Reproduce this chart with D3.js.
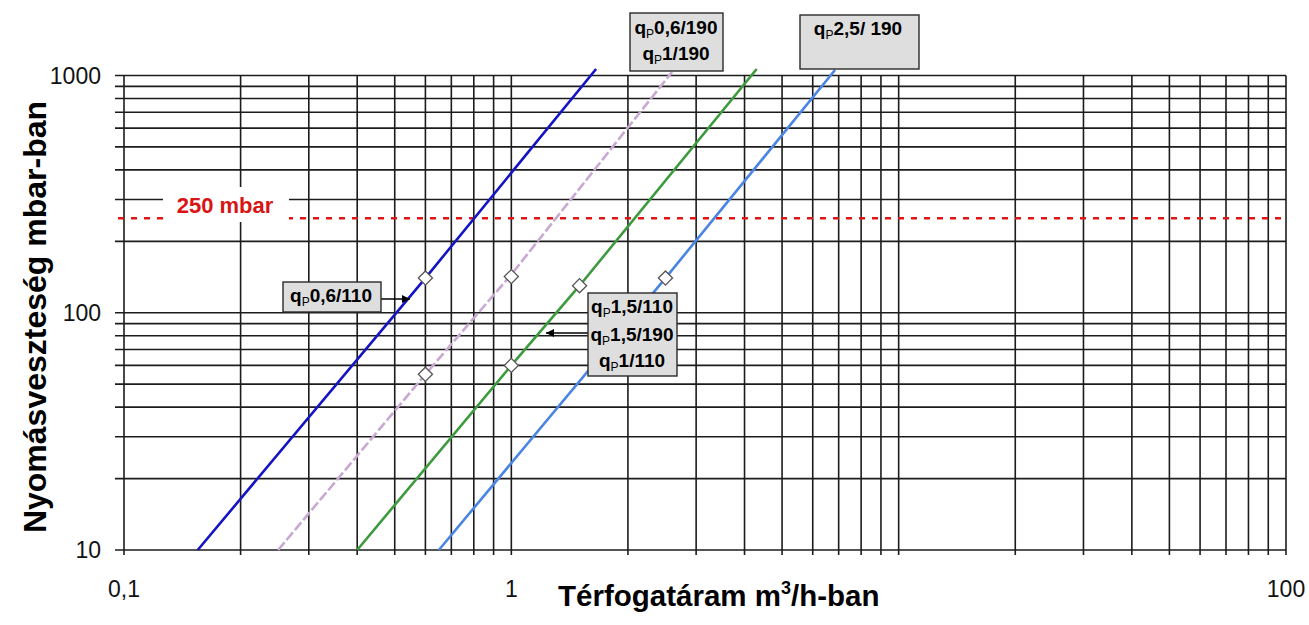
<!DOCTYPE html>
<html>
<head>
<meta charset="utf-8">
<script src="https://cdn.jsdelivr.net/npm/d3@7"></script>
<style>
  html, body { margin: 0; padding: 0; background: #fff; }
  svg { display: block; font-family: "Liberation Sans", Arial, sans-serif; }
</style>
</head>
<body>
<svg id="chart" width="1309" height="625"></svg>
<script>
// values (flow in m3/h, pressure loss in mbar)
const blueSeries = [[0.155, 10], [0.6, 140], [1.655, 1065]];
const lilacSeries = [[0.25, 10], [0.6, 55], [1.0, 145], [2.6, 1035]];
const greenSeries = [[0.4, 10], [1.0, 60], [1.5, 130], [4.3, 1065]];
const lightBlueSeries = [[0.65, 10], [2.5, 140], [6.85, 1055]];

const markerPoints = [[0.6, 140], [0.6, 55], [1.0, 142], [1.0, 60], [1.5, 130], [2.5, 140]];

const xTickLabels = [0.1, 1, 100];
const yTickLabels = [10, 100, 1000];
const limitValue = 250;
const limitLabel = "250 mbar";

const xTitle = "Térfogatáram m";
const yTitle = "Nyomásveszteség mbar-ban";

const series = [
  { data: blueSeries, color: "#1414c4", dash: null },
  { data: lilacSeries, color: "#c9a9d2", dash: "10,3" },
  { data: greenSeries, color: "#3d9a3d", dash: null },
  { data: lightBlueSeries, color: "#4a84e4", dash: null },
];

// callout boxes (layout in pixels)
const callouts = [
  { box: [630, 13, 93, 58], cx: 676, lines: [["0,6/190", 34], ["1/190", 60]] },
  { box: [800, 15, 119, 54], cx: 858, lines: [["2,5/ 190", 35]] },
  { box: [283, 282, 98, 30], cx: 331, lines: [["0,6/110", 302]], arrow: [381, 299, 410, 299] },
  { box: [588, 293, 89, 83], cx: 632, lines: [["1,5/110", 313], ["1,5/190", 341], ["1/110", 367]], arrow: [588, 333, 546, 333] },
];

const svg = d3.select("#chart");

const x = d3.scaleLog().domain([0.1, 100]).range([124, 1286]);
const y = d3.scaleLog().domain([10, 1000]).range([550, 75.5]);

const gridColor = "#1c1c1c";

// grid
const grid = svg.append("g");
grid.selectAll(".hgrid")
  .data(y.ticks())
  .enter()
  .append("line")
  .attr("x1", x.range()[0] - 9)
  .attr("x2", x.range()[1])
  .attr("y1", d => y(d))
  .attr("y2", d => y(d))
  .attr("stroke", gridColor)
  .attr("stroke-width", 1.6);

grid.selectAll(".vgrid")
  .data(x.ticks())
  .enter()
  .append("line")
  .attr("x1", d => x(d))
  .attr("x2", d => x(d))
  .attr("y1", y.range()[1])
  .attr("y2", y.range()[0] + 5)
  .attr("stroke", gridColor)
  .attr("stroke-width", 1.6);

// tick labels
svg.selectAll(".ylab")
  .data(yTickLabels)
  .enter()
  .append("text")
  .attr("x", 101)
  .attr("y", d => y(d) + 8)
  .attr("text-anchor", "end")
  .style("font-size", "23px")
  .attr("fill", "#111")
  .text(d => d);

svg.selectAll(".xlab")
  .data(xTickLabels)
  .enter()
  .append("text")
  .attr("x", d => x(d))
  .attr("y", 597)
  .attr("text-anchor", "middle")
  .style("font-size", "23px")
  .attr("fill", "#111")
  .text(d => String(d).replace(".", ","));

// limit line
svg.append("line")
  .attr("x1", x.range()[0] - 6)
  .attr("x2", x.range()[1])
  .attr("y1", y(limitValue))
  .attr("y2", y(limitValue))
  .attr("stroke", "#e01515")
  .attr("stroke-width", 2.5)
  .attr("stroke-dasharray", "6,7");

svg.append("rect")
  .attr("x", 163)
  .attr("y", 187)
  .attr("width", 126)
  .attr("height", 35)
  .attr("fill", "#fff");

svg.append("text")
  .attr("x", 225)
  .attr("y", 213)
  .attr("text-anchor", "middle")
  .attr("fill", "#d81414")
  .style("font-size", "22px")
  .style("font-weight", "bold")
  .text(limitLabel);

// curves
const line = d3.line()
  .x(d => x(d[0]))
  .y(d => y(d[1]));

svg.selectAll(".curve")
  .data(series)
  .enter()
  .append("path")
  .attr("d", d => line(d.data))
  .attr("fill", "none")
  .attr("stroke", d => d.color)
  .attr("stroke-width", 2.6)
  .attr("stroke-dasharray", d => d.dash);

// diamonds
svg.selectAll(".marker")
  .data(markerPoints)
  .enter()
  .append("path")
  .attr("d", d3.symbol(d3.symbolSquare, 100))
  .attr("transform", d => `translate(${x(d[0])},${y(d[1])}) rotate(45)`)
  .attr("fill", "#fff")
  .attr("stroke", "#555")
  .attr("stroke-width", 1.3);

// arrowhead
svg.append("defs")
  .append("marker")
  .attr("id", "head")
  .attr("viewBox", "0 -5 10 10")
  .attr("refX", 10)
  .attr("markerWidth", 14)
  .attr("markerHeight", 8)
  .attr("markerUnits", "userSpaceOnUse")
  .attr("orient", "auto")
  .append("path")
  .attr("d", "M0,-5 L10,0 L0,5 Z")
  .attr("fill", "#000");

const call = svg.selectAll(".callout")
  .data(callouts)
  .enter()
  .append("g");

call.filter(d => d.arrow)
  .append("line")
  .attr("x1", d => d.arrow[0])
  .attr("y1", d => d.arrow[1])
  .attr("x2", d => d.arrow[2])
  .attr("y2", d => d.arrow[3])
  .attr("stroke", "#000")
  .attr("stroke-width", 1.5)
  .attr("marker-end", "url(#head)");

call.append("rect")
  .attr("x", d => d.box[0])
  .attr("y", d => d.box[1])
  .attr("width", d => d.box[2])
  .attr("height", d => d.box[3])
  .attr("fill", "#dedede")
  .attr("stroke", "#2a2a2a")
  .attr("stroke-width", 1.4);

call.each(function (d) {
  const g = d3.select(this);
  d.lines.forEach(([txt, base]) => {
    const t = g.append("text")
      .attr("x", d.cx)
      .attr("y", base)
      .attr("text-anchor", "middle")
      .attr("fill", "#000")
      .style("font-size", "19px")
      .style("font-weight", "bold");
    t.append("tspan").text("q");
    t.append("tspan")
      .attr("dy", 4)
      .style("font-size", "12px")
      .style("font-weight", "normal")
      .text("P");
    t.append("tspan").attr("dy", -4).text(txt);
  });
});

// axis titles
const xt = svg.append("text")
  .attr("x", 558)
  .attr("y", 606)
  .attr("fill", "#000")
  .style("font-size", "29.5px")
  .style("font-weight", "bold");
xt.append("tspan").text(xTitle);
xt.append("tspan").attr("dy", -12).style("font-size", "18px").text("3");
xt.append("tspan").attr("dy", 12).text("/h-ban");

svg.append("text")
  .attr("transform", "translate(46,317) rotate(-90)")
  .attr("text-anchor", "middle")
  .attr("fill", "#000")
  .style("font-size", "32px")
  .style("font-weight", "bold")
  .text(yTitle);
</script>
</body>
</html>
